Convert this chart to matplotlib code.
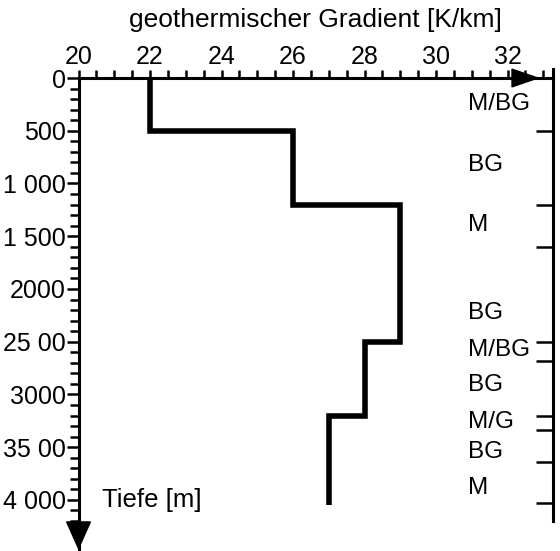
import matplotlib
matplotlib.use("Agg")
import matplotlib.pyplot as plt
from matplotlib.patches import Polygon
from matplotlib.ticker import MultipleLocator, FixedLocator, FixedFormatter

plt.rcParams['font.family'] = ['Liberation Sans', 'DejaVu Sans']

# Data: geothermal gradient (K/km) per depth interval (m)
depth_top = [0, 500, 1200, 2500, 3200]
depth_bot = [500, 1200, 2500, 3200, 4050]
gradient = [22, 26, 29, 28, 27]

# Right-side lithology boundaries and labels
boundary_depths = [500, 1200, 1600, 2500, 2680, 3200, 3340, 3640, 4030]
litho_labels = ["M/BG", "BG", "M", "BG", "M/BG", "BG", "M/G", "BG", "M"]
litho_depths = [250, 820, 1390, 2230, 2580, 2910, 3260, 3545, 3890]

x_ticks = [20, 22, 24, 26, 28, 30, 32]
y_ticks = [0, 500, 1000, 1500, 2000, 2500, 3000, 3500, 4000]
y_ticklabels = ["0", "500", "1 000", "1 500", "2000", "25 00", "3000", "35 00", "4 000"]

fig = plt.figure(figsize=(5.6, 5.51), dpi=100)
ax = fig.add_axes([0.1402, 0.0544, 0.8473, 0.804])

# build step path
xs, ys = [], []
for t, b, g in zip(depth_top, depth_bot, gradient):
    xs += [g, g]
    ys += [t, b]
ax.plot(xs, ys, color='black', lw=4.0, solid_joinstyle='miter', solid_capstyle='butt')

ax.set_xlim(20, 33.27)
ax.set_ylim(4200, 0)

ax.xaxis.tick_top()
ax.xaxis.set_label_position('top')
ax.set_xticks(x_ticks)
ax.xaxis.set_minor_locator(MultipleLocator(0.5))
ax.set_yticks(y_ticks)
ax.set_yticklabels(y_ticklabels)
ax.yaxis.set_minor_locator(MultipleLocator(100))

fs = 18
ax.tick_params(axis='x', which='major', direction='out', length=5.5, width=1.8, labelsize=fs, pad=1, top=True, bottom=False)
ax.tick_params(axis='x', which='minor', direction='out', length=5.5, width=1.8, top=True, bottom=False)
ax.tick_params(axis='y', which='major', direction='out', length=9, width=1.8, labelsize=fs, pad=0, left=True, right=False)
ax.tick_params(axis='y', which='minor', direction='out', length=6.5, width=1.8, left=True, right=False)

for s in ['top', 'left', 'right']:
    ax.spines[s].set_linewidth(2.2)
ax.spines['bottom'].set_visible(False)

ax.set_xlabel("geothermischer Gradient [K/km]", fontsize=19, labelpad=13)

# right ticks (inward)
ax2 = ax.twinx()
ax2.set_ylim(ax.get_ylim())
ax2.yaxis.set_major_locator(FixedLocator(boundary_depths))
ax2.yaxis.set_major_formatter(FixedFormatter([""] * len(boundary_depths)))
ax2.tick_params(axis='y', direction='in', length=12, width=1.8, right=True)
for s in ax2.spines.values():
    s.set_visible(False)

for lab, d in zip(litho_labels, litho_depths):
    ax.text(0.82, d, lab, transform=ax.get_yaxis_transform(), fontsize=17.5,
            ha='left', va='center')

ax.text(0.05, 4000, "Tiefe [m]", transform=ax.get_yaxis_transform(), fontsize=18.5,
        ha='left', va='center')

# axis arrows
ax.plot([0, 0], [0, -0.08], transform=ax.transAxes, color='black', lw=2.2, clip_on=False)
ax.plot([1, 1], [1, 1.02], transform=ax.transAxes, color='black', lw=2.2, clip_on=False)
ax.add_patch(Polygon([[-0.025, -0.002], [0.025, -0.002], [0.0, -0.062]], closed=True,
                     transform=ax.transAxes, color='black', clip_on=False))
ax.add_patch(Polygon([[0.9136, 1.02], [0.9136, 0.98], [0.968, 1.0]], closed=True,
                     transform=ax.transAxes, color='black', clip_on=False))

fig.savefig("out.png", dpi=100)
